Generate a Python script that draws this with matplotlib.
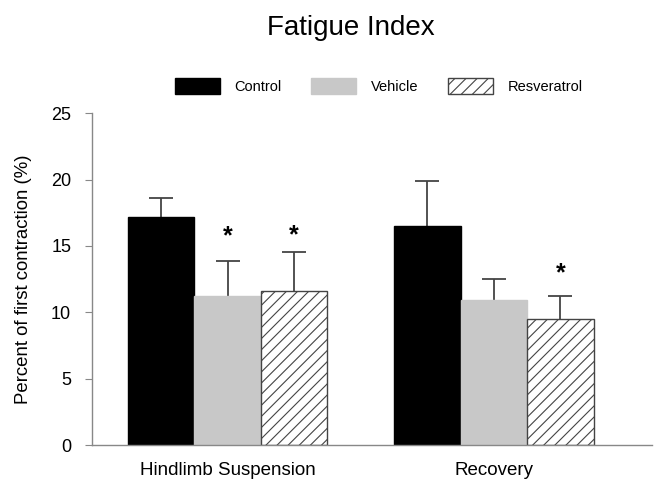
import numpy as np
import matplotlib.pyplot as plt
from matplotlib.patches import Patch

plt.rcParams['font.family'] = ['Liberation Sans', 'DejaVu Sans']
plt.rcParams['hatch.color'] = '#444444'
plt.rcParams['hatch.linewidth'] = 0.8

# Dane
groups = ['Hindlimb Suspension', 'Recovery']
series = ['Control', 'Vehicle', 'Resveratrol']
values = {
    'Control': [17.2, 16.5],
    'Vehicle': [11.25, 10.95],
    'Resveratrol': [11.6, 9.5],
}
errors = {
    'Control': [1.4, 3.4],
    'Vehicle': [2.6, 1.55],
    'Resveratrol': [2.95, 1.75],
}
# gwiazdki: (seria, grupa, wysokosc)
stars = [('Vehicle', 0, 15.7), ('Resveratrol', 0, 15.8), ('Resveratrol', 1, 12.95)]

colors = {'Control': 'black', 'Vehicle': '#c8c8c8', 'Resveratrol': 'white'}
hatches = {'Control': None, 'Vehicle': None, 'Resveratrol': '///'}
edges = {'Control': 'black', 'Vehicle': '#c8c8c8', 'Resveratrol': '#444444'}

fig = plt.figure(figsize=(6.62, 4.88), dpi=100)
ax = fig.add_axes([0.139, 0.0881, 0.846, 0.680])

width = 1.0
group_pos = np.array([1.0, 5.0])
for i, s in enumerate(series):
    x = group_pos + (i - 1) * width
    ax.bar(x, values[s], width, color=colors[s], edgecolor=edges[s],
           hatch=hatches[s], linewidth=1.0, zorder=2)
    eb = ax.errorbar(x, values[s], yerr=[np.zeros(2), errors[s]], fmt='none',
                     ecolor='#444444', elinewidth=1.3, capsize=8.5, capthick=1.3,
                     zorder=1)
    eb[1][0].set_visible(False)  # bez dolnej kreski

for s, g, h in stars:
    x = group_pos[g] + (series.index(s) - 1) * width
    ax.text(x, h, '*', ha='center', va='center', fontsize=18, fontweight='bold')

ax.set_xlim(-1.04, 7.38)
ax.set_ylim(0, 25)
ax.set_yticks([0, 5, 10, 15, 20, 25])
ax.set_xticks(group_pos)
ax.set_xticklabels(groups)
ax.tick_params(axis='x', length=0, labelsize=13.5, pad=12)
ax.tick_params(axis='y', length=5, color='#888888', labelsize=13, pad=10)
for sp in ['top', 'right']:
    ax.spines[sp].set_visible(False)
for sp in ['left', 'bottom']:
    ax.spines[sp].set_color('#888888')
    ax.spines[sp].set_linewidth(1.0)
ax.set_ylabel('Percent of first contraction (%)', fontsize=13.4, labelpad=14)

handles = [Patch(facecolor=colors[s], edgecolor=edges[s], hatch=hatches[s]) for s in series]
fig.legend(handles, series, loc='center', bbox_to_anchor=(0.572, 0.823), ncol=3,
           frameon=False, fontsize=10.5, handlelength=3.1, handleheight=1.3,
           handletextpad=1.0, columnspacing=2.0)

fig.text(0.53, 0.943, 'Fatigue Index', ha='center', va='center', fontsize=20)

fig.savefig('out.png', dpi=100)
